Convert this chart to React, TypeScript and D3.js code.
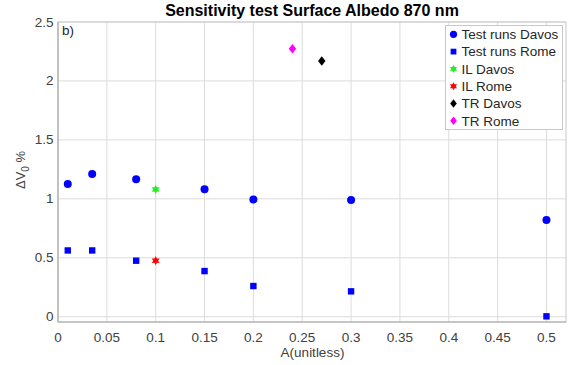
import React from "react";
import * as d3 from "d3";

const davosX = [0.01, 0.035, 0.08, 0.15, 0.2, 0.3, 0.5];
const davosY = [1.125, 1.21, 1.167, 1.082, 0.994, 0.99, 0.82];
const romeX = [0.01, 0.035, 0.08, 0.15, 0.2, 0.3, 0.5];
const romeY = [0.562, 0.562, 0.475, 0.387, 0.26, 0.215, 0.003];
const ilDavos = [0.1, 1.08];
const ilRome = [0.1, 0.475];
const trDavos = [0.27, 2.17];
const trRome = [0.24, 2.274];
const xTicks = [0, 0.05, 0.1, 0.15, 0.2, 0.25, 0.3, 0.35, 0.4, 0.45, 0.5];
const yTicks = [0, 0.5, 1, 1.5, 2, 2.5];
const legendLabels = ["Test runs Davos", "Test runs Rome", "IL Davos", "IL Rome", "TR Davos", "TR Rome"];

const W = 574, H = 365;
const L = 58, R = 566, T = 22, B = 322;
const FONT = "Liberation Sans, Arial, Helvetica, sans-serif";

const hexagram = {
  draw(ctx: any, size: number) {
    const r = Math.sqrt(size) * 0.75;
    const ri = r * 0.55;
    for (let i = 0; i < 12; i++) {
      const a = (i * Math.PI) / 6 - Math.PI / 2;
      const rr = i % 2 === 0 ? r : ri;
      const x = rr * Math.cos(a), y = rr * Math.sin(a);
      if (i === 0) ctx.moveTo(x, y); else ctx.lineTo(x, y);
    }
    ctx.closePath();
  },
};
const diamond = {
  draw(ctx: any, size: number) {
    const h = Math.sqrt(size) * 0.75;
    const w = h * 0.78;
    ctx.moveTo(0, -h);
    ctx.lineTo(w, 0);
    ctx.lineTo(0, h);
    ctx.lineTo(-w, 0);
    ctx.closePath();
  },
};

function Marker({ kind, x, y, color, scale = 1 }: any) {
  if (kind === "circle") return <circle cx={x} cy={y} r={4 * scale} fill={color} />;
  if (kind === "square") {
    const s = 6.4 * scale;
    return <rect x={x - s / 2} y={y - s / 2} width={s} height={s} fill={color} />;
  }
  const type = kind === "star" ? hexagram : diamond;
  const size = kind === "star" ? 36 * scale * scale : 40 * scale * scale;
  const p = d3.symbol().type(type as any).size(size)() as string;
  return <path d={p} transform={`translate(${x},${y})`} fill={color} />;
}

export default function App() {
  const x = d3.scaleLinear().domain([0, 0.52]).range([L, R]);
  const y = d3.scaleLinear().domain([-0.045, 2.5]).range([B, T]);
  const legend = [
    { kind: "circle", color: "#0000ff" },
    { kind: "square", color: "#0000ff" },
    { kind: "star", color: "#22ee22" },
    { kind: "star", color: "#ff0000" },
    { kind: "diamond", color: "#000000" },
    { kind: "diamond", color: "#ff00ff" },
  ];
  const fmt = (v: number) => String(v);
  return (
    <svg width={W} height={H} style={{ display: "block", position: "absolute", left: 0, top: 0 }} fontFamily={FONT}>
      <rect x={0} y={0} width={W} height={H} fill="#fff" />
      <rect x={L} y={T} width={R - L} height={B - T} fill="#fff" />
      {xTicks.map((t) => (
        <line key={"gx" + t} x1={x(t)} x2={x(t)} y1={T} y2={B} stroke="#dcdcdc" strokeWidth={1} />
      ))}
      {yTicks.map((t) => (
        <line key={"gy" + t} x1={L} x2={R} y1={y(t)} y2={y(t)} stroke="#dcdcdc" strokeWidth={1} />
      ))}
      <rect x={L} y={T} width={R - L} height={B - T} fill="none" stroke="#c8c8c8" strokeWidth={1} />
      <line x1={L} x2={R} y1={B} y2={B} stroke="#a8a8a8" strokeWidth={1} />
      <line x1={L} x2={L} y1={T} y2={B} stroke="#a8a8a8" strokeWidth={1} />
      {xTicks.map((t) => (
        <text key={"tx" + t} x={x(t)} y={341.5} textAnchor="middle" fontSize={13.5} fill="#404040">
          {fmt(t)}
        </text>
      ))}
      {yTicks.map((t) => (
        <text key={"ty" + t} x={53.5} y={y(t) + 4.5} textAnchor="end" fontSize={13.5} fill="#404040">
          {fmt(t)}
        </text>
      ))}
      <text x={(L + R) / 2 + 0.5} y={357} textAnchor="middle" fontSize={13.5} fill="#404040">A(unitless)</text>
      <text transform={`translate(25,${(T + B) / 2 - 2}) rotate(-90)`} textAnchor="middle" fontSize={13} fill="#404040">
        ΔV<tspan dy={4} fontSize={10}>0</tspan><tspan dy={-4}> %</tspan>
      </text>
      <text x={(L + R) / 2} y={16} textAnchor="middle" fontSize={16} fontWeight="bold" fill="#000">
        Sensitivity test Surface Albedo 870 nm
      </text>
      <text x={62} y={35} fontSize={13.5} fill="#262626">b)</text>

      {davosX.map((v, i) => (
        <Marker key={"d" + i} kind="circle" x={x(v)} y={y(davosY[i])} color="#0000ff" />
      ))}
      {romeX.map((v, i) => (
        <Marker key={"r" + i} kind="square" x={x(v)} y={y(romeY[i])} color="#0000ff" />
      ))}
      <Marker kind="star" x={x(ilDavos[0])} y={y(ilDavos[1])} color="#22ee22" />
      <Marker kind="star" x={x(ilRome[0])} y={y(ilRome[1])} color="#ff0000" />
      <Marker kind="diamond" x={x(trDavos[0])} y={y(trDavos[1])} color="#000000" />
      <Marker kind="diamond" x={x(trRome[0])} y={y(trRome[1])} color="#ff00ff" />

      <rect x={445.5} y={25.5} width={117} height={104} fill="#fff" stroke="#c8c8c8" strokeWidth={1} />
      {legend.map((e, i) => (
        <g key={"l" + i}>
          <Marker kind={e.kind} x={453.5} y={34.3 + i * 17.3} color={e.color} scale={0.9} />
          <text x={461.5} y={34.3 + i * 17.3 + 4.8} fontSize={13.5} fill="#262626">{legendLabels[i]}</text>
        </g>
      ))}
    </svg>
  );
}
